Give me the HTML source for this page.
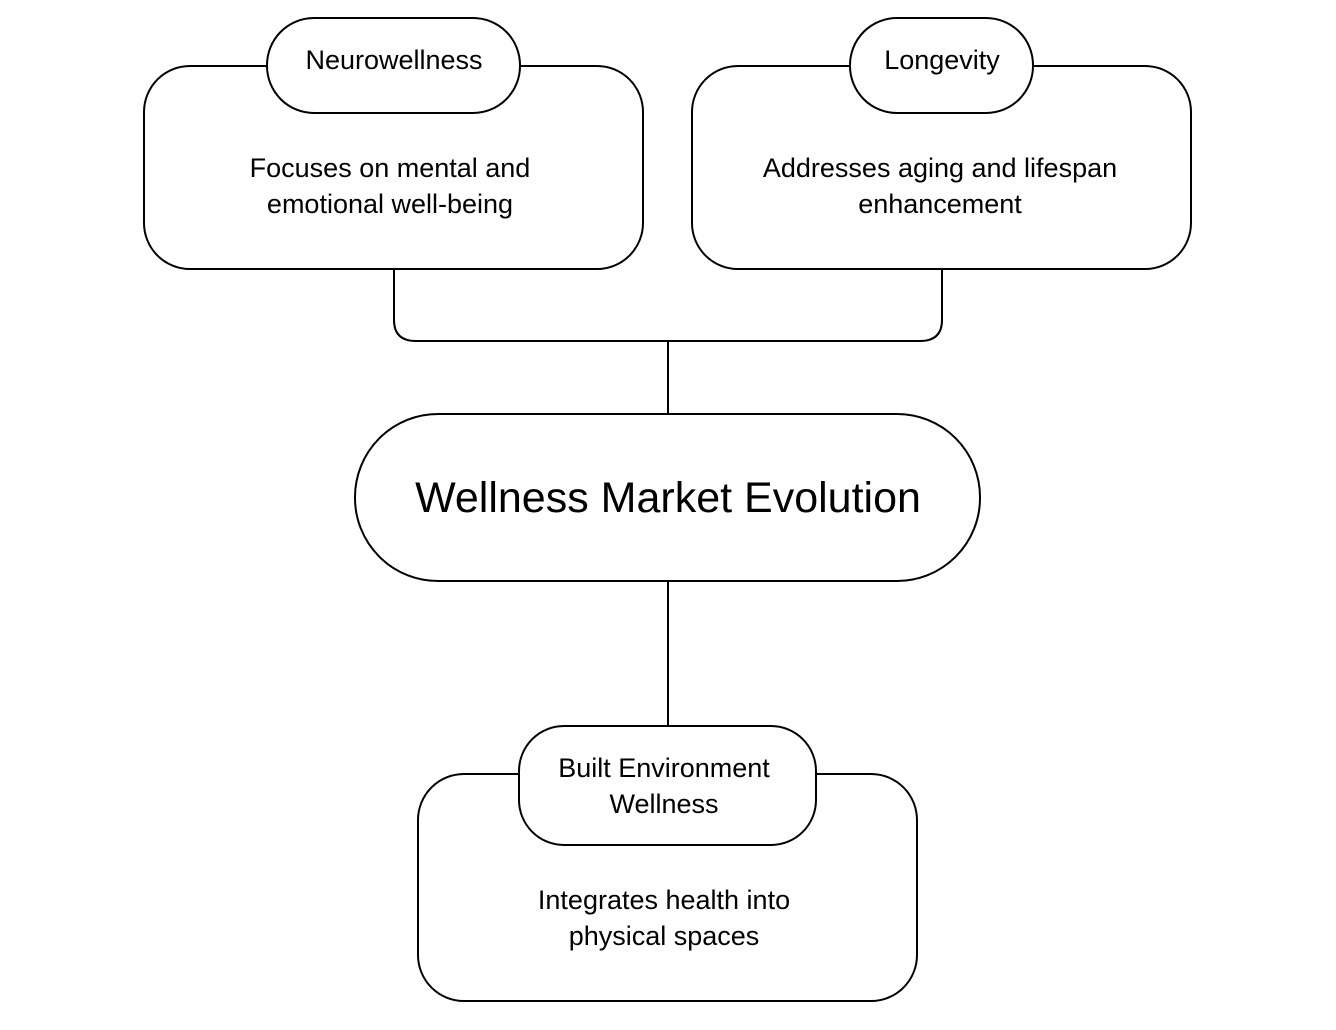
<!DOCTYPE html>
<html><head><meta charset="utf-8"><style>
html,body{margin:0;padding:0;background:#fff;}
svg text{font-family:"Liberation Sans",Arial,sans-serif;fill:#000;}
</style></head><body>
<svg width="1336" height="1025" viewBox="0 0 1336 1025" xmlns="http://www.w3.org/2000/svg">
<g fill="none" stroke="#000" stroke-width="2">
<path d="M394 270 V320 Q394 341 416 341 H920 Q942 341 942 320 V270"/>
<path d="M668 341 V414"/>
<path d="M668 581 V726"/>
</g>
<g fill="#fff" stroke="#000" stroke-width="2">
<rect x="144" y="66" width="499" height="203" rx="46"/>
<rect x="267" y="18" width="253" height="95" rx="47"/>
<rect x="692" y="66" width="499" height="203" rx="46"/>
<rect x="850" y="18" width="183" height="95" rx="47"/>
<rect x="355" y="414" width="625" height="167" rx="83"/>
<rect x="418" y="774" width="499" height="227" rx="46"/>
<rect x="519" y="726" width="297" height="119" rx="45"/>
</g>
<g text-anchor="middle" font-size="27">
<text x="394" y="69">Neurowellness</text>
<text x="942" y="69">Longevity</text>
<text x="390" y="177">Focuses on mental and</text>
<text x="390" y="213">emotional well-being</text>
<text x="940" y="177">Addresses aging and lifespan</text>
<text x="940" y="213">enhancement</text>
<text x="664" y="777">Built Environment</text>
<text x="664" y="813">Wellness</text>
<text x="664" y="909">Integrates health into</text>
<text x="664" y="945">physical spaces</text>
<text x="668" y="512" font-size="43">Wellness Market Evolution</text>
</g>
</svg>
</body></html>
